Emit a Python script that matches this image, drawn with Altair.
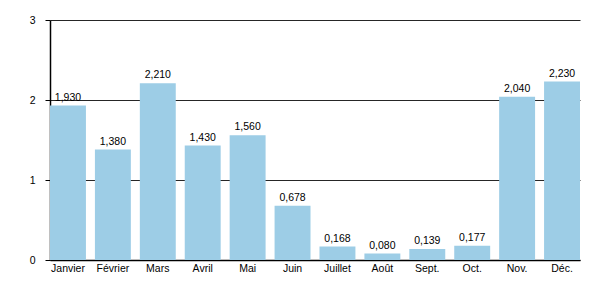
import altair as alt
import pandas as pd

months = ["Janvier", "Février", "Mars", "Avril", "Mai", "Juin", "Juillet", "Août", "Sept.", "Oct.", "Nov.", "Déc."]
values = [1.930, 1.380, 2.210, 1.430, 1.560, 0.678, 0.168, 0.080, 0.139, 0.177, 2.040, 2.230]

df = pd.DataFrame({"mois": months, "valeur": values})

FONT = "Liberation Sans"
FS = 10.5

x = alt.X("mois:N", sort=months, title=None,
          scale=alt.Scale(paddingInner=0.2, paddingOuter=0),
          axis=alt.Axis(labelAngle=0, ticks=False, domainColor="black", domainWidth=1.5,
                        labelFont=FONT, labelFontSize=FS, labelColor="black", labelPadding=3))
y = alt.Y("valeur:Q", title=None,
          scale=alt.Scale(domain=[0, 3], nice=False),
          axis=alt.Axis(values=[0, 1, 2, 3], format="d", gridColor="black", gridWidth=1,
                        gridOpacity=0.85, domainColor="black", domainWidth=1.5,
                        tickColor="black", tickSize=5, labelPadding=10,
                        labelFont=FONT, labelFontSize=FS, labelColor="black"))

bars = alt.Chart(df).mark_bar(color="#9dcde6").encode(x=x, y=y)

labels = alt.Chart(df).transform_calculate(
    lab="replace(format(datum.valeur, '.3f'), '.', ',')"
).mark_text(baseline="bottom", dy=-3, font=FONT, fontSize=FS, color="black").encode(
    x=alt.X("mois:N", sort=months), y="valeur:Q", text="lab:N")

chart = (bars + labels).properties(
    width=530, height=240,
    autosize=alt.AutoSizeParams(type="none"),
    padding={"left": 50, "top": 20, "right": 20, "bottom": 40},
).configure_view(stroke=None)

chart.save("out.html", embed_options={"renderer": "svg", "actions": False})
